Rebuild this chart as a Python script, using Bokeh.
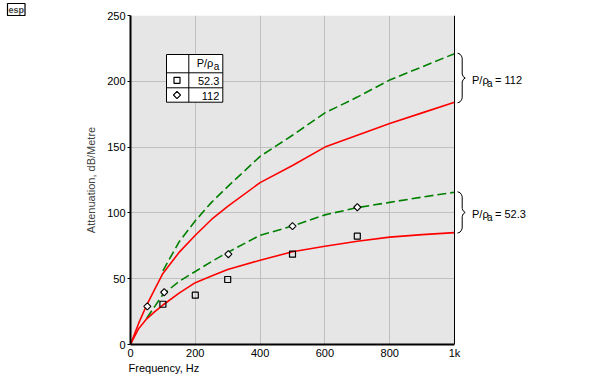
import math
from bokeh.plotting import figure
from bokeh.models import Range1d, FixedTicker, LinearAxis, Label, Span
from bokeh.embed import file_html
from bokeh.resources import INLINE

# ---- data ----
freq_calc = [0, 25, 50, 75, 100, 150, 200, 250, 300, 400, 500, 600, 700, 800, 900, 1000]
calc_112 = [0, 16, 30, 42, 54, 70, 83, 95, 105, 123, 136, 150, 159, 168, 176, 184]
calc_52 = [0, 12, 19.5, 25, 30, 39, 47, 52, 57, 64, 70.5, 74.7, 78.5, 81.6, 83.5, 85]

freq_alt_112 = [100, 150, 200, 250, 300, 400, 500, 600, 700, 800, 900, 1000]
alt_112 = [56, 78, 94, 108, 120, 143, 159, 176, 188, 201, 211, 221]
freq_alt_52 = [50, 75, 100, 150, 200, 250, 300, 400, 500, 600, 700, 800, 900, 1000]
alt_52 = [20, 29, 38, 48, 55.5, 63, 70, 83, 90, 98.5, 104, 108, 112, 115.7]

meas_freq_52 = [100, 200, 300, 500, 700]
meas_52 = [30.6, 37.5, 49.4, 68.6, 82.3]
meas_freq_112 = [52, 104, 302, 500, 700]
meas_112 = [29, 39.7, 68.6, 90, 104.3]

x_ticks = [0, 200, 400, 600, 800, 1000]
x_tick_labels = ["0", "200", "400", "600", "800", "1k"]
y_ticks = [0, 50, 100, 150, 200, 250]
legend_labels = ["52.3", "112"]

# ---- layout (canvas pixels) ----
W, H = 592, 379
L, T = 130, 15
PW, FH = 324, 329          # pixel size of the 0..1000 x 0..250 plot area
R = 2
FW = W - L - R             # frame extends right to host the braces
B = H - T - FH
X0, X1, Y0, Y1 = 0, 1000, 0, 250
XE = X0 + FW / PW * (X1 - X0)
FONT = "Liberation Sans"
RED = "#FF0000"
GREEN = "#008000"


def dx(px):  # canvas pixel -> data x
    return X0 + (px - L) / PW * (X1 - X0)


def dy(py):  # canvas pixel -> data y
    return Y0 + (T + FH - py) / FH * (Y1 - Y0)


def py_of(v):
    return T + FH - (v - Y0) / (Y1 - Y0) * FH


p = figure(width=W, height=H, x_range=Range1d(X0, XE), y_range=Range1d(Y0, Y1),
           output_backend="svg", toolbar_location=None,
           min_border_left=L, min_border_right=R, min_border_top=T, min_border_bottom=B)
p.background_fill_color = "white"
p.border_fill_color = "white"
p.outline_line_color = None

# logo as title
p.title.text = "esp"
p.title.align = "left"
p.title.offset = 7 - L
p.title.standoff = 0
p.title.text_font = FONT
p.title.text_font_size = "9px"
p.title.text_font_style = "bold"
p.title.text_line_height = 1.0
p.title.border_line_color = "black"
p.title.border_line_width = 1.2
p.title.padding = 1

# plot area background
p.quad(left=[X0], right=[X1], bottom=[Y0], top=[Y1], fill_color="#E6E6E6",
       line_color=None, level="image")

p.xaxis.ticker = FixedTicker(ticks=x_ticks)
p.xaxis.major_label_overrides = {t: s for t, s in zip(x_ticks, x_tick_labels)}
p.xaxis.bounds = (X0, X1)
p.yaxis.ticker = FixedTicker(ticks=y_ticks)
for ax in (p.xaxis[0], p.yaxis[0]):
    ax.axis_line_color = "black"
    ax.axis_line_width = 2
    ax.major_label_text_font = FONT
    ax.major_label_text_font_size = "11px"
    ax.major_label_text_color = "black"
    ax.minor_tick_line_color = None
    ax.major_tick_line_color = "black"
p.xaxis.major_tick_out = 0
p.xaxis.major_tick_in = 0
p.xaxis.major_label_standoff = 2
p.yaxis.major_tick_out = 3
p.yaxis.major_tick_in = 0
p.yaxis.major_label_standoff = 2
p.yaxis.axis_label = "Attenuation, dB/Metre"
p.yaxis.axis_label_text_font = FONT
p.yaxis.axis_label_text_font_size = "11px"
p.yaxis.axis_label_text_font_style = "normal"
p.yaxis.axis_label_standoff = 7

# left-aligned x-axis title, carried by a second (invisible) bottom axis
xt_pos = round(dx(163.5))
ax_t = LinearAxis(ticker=FixedTicker(ticks=[xt_pos]),
                  major_label_overrides={xt_pos: "Frequency, Hz"},
                  axis_line_color=None, major_tick_line_color=None,
                  minor_tick_line_color=None, major_tick_out=0, major_tick_in=0,
                  major_label_standoff=0,
                  major_label_text_font=FONT, major_label_text_font_size="11px",
                  major_label_text_color="black")
p.add_layout(ax_t, "below")

p.xgrid.ticker = FixedTicker(ticks=x_ticks[1:-1])
p.ygrid.ticker = FixedTicker(ticks=y_ticks[1:-1])
p.grid.grid_line_color = "#C0C0C0"
p.grid.grid_line_width = 1

# white-out beyond the plot area (hosts the braces)
p.quad(left=[X1], right=[XE], bottom=[Y0], top=[Y1], fill_color="white", line_color=None)

# ---- curves ----
p.line(freq_alt_112, alt_112, line_color=GREEN, line_width=1.6, line_dash="9 4")
p.line(freq_alt_52, alt_52, line_color=GREEN, line_width=1.6, line_dash="9 4")
p.line(freq_calc, calc_112, line_color=RED, line_width=1.6)
p.line(freq_calc, calc_52, line_color=RED, line_width=1.6)

p.scatter(meas_freq_52, meas_52, marker="square", size=6, line_color="black",
          fill_color=None, line_width=1.2)
p.scatter(meas_freq_112, meas_112, marker="square", angle=math.pi / 4, size=5,
          line_color="black", fill_color="white", line_width=1.1)

p.add_layout(Span(location=X1, dimension="height", line_color="black", line_width=1))

# ---- legend table ----
tl, tm, tr = 166, 188.3, 222.3
tt, r1, r2, tb = 54, 72.3, 87.3, 101.7
p.quad(left=[dx(tl)], right=[dx(tr)], top=[dy(tt)], bottom=[dy(tb)],
       fill_color="white", line_color="black", line_width=1)
p.segment(x0=[dx(tm), dx(tl), dx(tl)], y0=[dy(tt), dy(r1), dy(r2)],
          x1=[dx(tm), dx(tr), dx(tr)], y1=[dy(tb), dy(r1), dy(r2)],
          line_color="black", line_width=1)
p.scatter([dx(176.5)], [dy((r1 + r2) / 2)], marker="square", size=6, line_color="black",
          fill_color=None, line_width=1.2)
p.scatter([dx(176.5)], [dy((r2 + tb) / 2)], marker="square", angle=math.pi / 4, size=5,
          line_color="black", fill_color="white", line_width=1.1)


def lab(text, px, py, size="11px", align="left", baseline="middle", **kw):
    p.add_layout(Label(x=px, y=py, x_units="canvas", y_units="canvas", text=text,
                       text_font=FONT, text_font_size=size, text_align=align,
                       text_baseline=baseline, text_color="black", **kw))


lab("P/ρ", 212.8, 62.5, align="right")
lab("a", 218.8, 66, size="10px", align="right")
lab(legend_labels[0], 218.8, (r1 + r2) / 2 + 0.5, align="right")
lab(legend_labels[1], 218.8, (r2 + tb) / 2 + 0.5, align="right")

# ---- braces on the right ----


def brace(top_v, bot_v, text_tail):
    yt = py_of(top_v) - 0.5
    yb = py_of(bot_v) + 0.5
    ym = (yt + yb) / 2
    pts = [(457, yt), (459.5, yt + 1), (461, yt + 3), (461.7, yt + 5), (461.7, ym - 4),
           (462.7, ym - 1.5), (464.7, ym), (462.7, ym + 1.5), (461.7, ym + 4),
           (461.7, yb - 5), (461, yb - 3), (459.5, yb - 1), (457, yb)]
    p.line([dx(a) for a, _ in pts], [dy(b) for _, b in pts], line_color="black", line_width=1)
    lab("P/ρ", 471.5, ym + 1.5)
    lab("a", 486.5, ym + 5.5, size="10px")
    lab("= " + text_tail, 494.5, ym + 1.5)


brace(alt_112[-1], calc_112[-1], legend_labels[1])
brace(alt_52[-1], calc_52[-1], legend_labels[0])

open("out.html", "w").write(file_html(p, INLINE))
